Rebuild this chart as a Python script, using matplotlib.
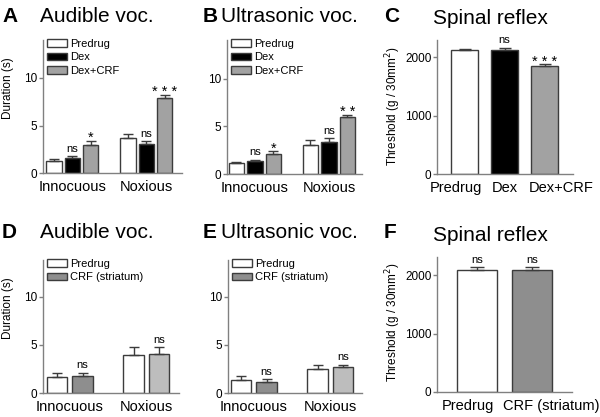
import matplotlib
matplotlib.use("Agg")
import matplotlib.pyplot as plt
import matplotlib.transforms as mtransforms
import numpy as np

plt.rcParams["font.family"] = ["Liberation Sans", "DejaVu Sans"]

W, H = 600, 417

# ---- data ----
groups = ["Innocuous", "Noxious"]

A_pre = [1.22, 3.68]
A_pre_err = [0.28, 0.42]
A_dex = [1.58, 3.05]
A_dex_err = [0.20, 0.27]
A_crf = [2.90, 7.90]
A_crf_err = [0.50, 0.27]
A_marks = [["", ""], ["ns", "ns"], ["*", "* * *"]]

B_pre = [1.19, 3.04]
B_pre_err = [0.12, 0.56]
B_dex = [1.37, 3.37]
B_dex_err = [0.13, 0.38]
B_crf = [2.15, 5.95]
B_crf_err = [0.25, 0.27]
B_marks = [["", ""], ["ns", "ns"], ["*", "* *"]]

C_labels = ["Predrug", "Dex", "Dex+CRF"]
C_vals = [2124, 2130, 1852]
C_err = [18, 40, 28]
C_marks = ["", "ns", "* * *"]

D_pre = [1.67, 3.99]
D_pre_err = [0.38, 0.77]
D_crf = [1.77, 4.03]
D_crf_err = [0.34, 0.73]
D_marks = [["", ""], ["ns", "ns"]]

E_pre = [1.35, 2.53]
E_pre_err = [0.42, 0.39]
E_crf = [1.18, 2.67]
E_crf_err = [0.24, 0.29]
E_marks = [["", ""], ["ns", "ns"]]

F_labels = ["Predrug", "CRF (striatum)"]
F_vals = [2097, 2092]
F_err = [46, 45]
F_marks = ["ns", "ns"]

legend_dex = ["Predrug", "Dex", "Dex+CRF"]
legend_str = ["Predrug", "CRF (striatum)"]

WHITE, BLACK, GREY = "white", "black", "#a2a2a2"
DARK_GREY, LIGHT_GREY = "#8e8e8e", "#bdbdbd"
EDGE = "#3c3c3c"
AXIS = "#808080"

fig = plt.figure(figsize=(W / 100, H / 100), dpi=100)


def px_axes(left, top, right, bottom):
    return fig.add_axes([left / W, 1 - bottom / H, (right - left) / W, (bottom - top) / H])


def style(ax):
    for s in ["top", "right"]:
        ax.spines[s].set_visible(False)
    for s in ["left", "bottom"]:
        ax.spines[s].set_color(AXIS)
        ax.spines[s].set_linewidth(1.0)
    ax.tick_params(axis="y", direction="out", length=3, width=1, color=AXIS,
                   labelsize=8.5, pad=1)
    ax.tick_params(axis="x", length=0, labelsize=10.5, pad=5)


def mark(ax, x, top, txt):
    if not txt:
        return
    if txt.startswith("*"):
        ax.annotate(txt, (x, top), xytext=(0, -0.8), textcoords="offset points",
                    ha="center", va="baseline", fontsize=10.5)
    else:
        ax.annotate(txt, (x, top), xytext=(0, 3.2), textcoords="offset points",
                    ha="center", va="baseline", fontsize=8)


def bars(ax, x, vals, errs, color, width, label=None, capsize=3.5):
    ax.bar(x, vals, width, color=color, edgecolor=EDGE, linewidth=1, label=label, zorder=2)
    ax.errorbar(x, vals, yerr=[np.zeros(len(vals)), errs], fmt="none", ecolor=EDGE,
                elinewidth=1, capsize=capsize, capthick=1, zorder=3)


def legend(ax):
    ax.legend(loc="upper left", bbox_to_anchor=(0, 1.04), frameon=False, fontsize=8,
              handlelength=1.8, handleheight=0.7, handletextpad=0.25,
              labelspacing=0.3, borderpad=0.4, borderaxespad=0)


# ---- A / B: three bars per group ----
def three_group(ax, pre, pre_e, dex, dex_e, crf, crf_e, marks, xlim, ytop, step):
    g = np.arange(len(groups)) * step
    series = [(pre, pre_e, WHITE), (dex, dex_e, BLACK), (crf, crf_e, GREY)]
    for j, (v, e, c) in enumerate(series):
        x = g + j
        bars(ax, x, v, e, c, 0.84, label=legend_dex[j])
        for i in range(len(groups)):
            mark(ax, x[i], v[i] + e[i], marks[j][i])
    ax.set_xlim(*xlim)
    ax.set_ylim(0, ytop)
    ax.set_yticks([0, 5, 10])
    ax.set_xticks(g + 1)
    ax.set_xticklabels(groups)
    style(ax)
    legend(ax)


axA = px_axes(43, 40, 182, 173)
three_group(axA, A_pre, A_pre_err, A_dex, A_dex_err, A_crf, A_crf_err, A_marks,
            (-0.6, 7.0), 14.0, 4.05)
axB = px_axes(227, 40, 362, 174)
three_group(axB, B_pre, B_pre_err, B_dex, B_dex_err, B_crf, B_crf_err, B_marks,
            (-0.51, 6.79), 14.1, 4.0)


# ---- D / E: two bars per group ----
def two_group(ax, pre, pre_e, crf, crf_e, marks, xlim, ytop):
    g = np.arange(len(groups)) * 3
    bars(ax, g, pre, pre_e, WHITE, 0.8, label=legend_str[0])
    bars(ax, g[:1] + 1, crf[:1], crf_e[:1], DARK_GREY, 0.8, label=legend_str[1])
    bars(ax, g[1:] + 1, crf[1:], crf_e[1:], LIGHT_GREY, 0.8)
    for i in range(len(groups)):
        mark(ax, g[i], pre[i] + pre_e[i], marks[0][i])
        mark(ax, g[i] + 1, crf[i] + crf_e[i], marks[1][i])
    ax.set_xlim(*xlim)
    ax.set_ylim(0, ytop)
    ax.set_yticks([0, 5, 10])
    ax.set_xticks(g + 0.5)
    ax.set_xticklabels(groups)
    style(ax)
    legend(ax)


axD = px_axes(43, 260, 179, 393)
two_group(axD, D_pre, D_pre_err, D_crf, D_crf_err, D_marks, (-0.55, 4.78), 13.85)
axE = px_axes(228, 260, 362, 393)
two_group(axE, E_pre, E_pre_err, E_crf, E_crf_err, E_marks, (-0.51, 4.74), 13.85)


# ---- C / F: spinal reflex ----
def reflex(ax, labels, vals, errs, colors, marks, width, xlim, ytop, shifts, capsize):
    x = np.arange(len(vals))
    for i in range(len(vals)):
        bars(ax, x[i:i + 1], vals[i:i + 1], errs[i:i + 1], colors[i], width, capsize=capsize)
        mark(ax, x[i], vals[i] + errs[i], marks[i])
    ax.set_xlim(*xlim)
    ax.set_ylim(0, ytop)
    ax.set_yticks([0, 1000, 2000])
    ax.set_xticks(x)
    ax.set_xticklabels(labels)
    style(ax)
    for lab, dx in zip(ax.get_xticklabels(), shifts):
        off = mtransforms.ScaledTranslation(dx / 100, 0, fig.dpi_scale_trans)
        lab.set_transform(lab.get_transform() + off)


axC = px_axes(437, 40, 573, 174)
reflex(axC, C_labels, C_vals, C_err, [WHITE, BLACK, GREY], C_marks, 0.68,
       (-0.69, 2.71), 2300, [-8.5, 0, 16.5], 4)
axF = px_axes(437, 257, 572, 392)
reflex(axF, F_labels, F_vals, F_err, [WHITE, DARK_GREY], F_marks, 0.73,
       (-0.72, 1.73), 2315, [-9, 19], 5)

# ---- axis titles ----
for y in (88, 308):
    fig.text(8 / W, 1 - y / H, "Duration (s)", rotation=90, ha="center", va="center",
             fontsize=8.5)
for y in (106, 322):
    fig.text(393 / W, 1 - y / H, "Threshold (g / 30mm$^2$)", rotation=90, ha="center",
             va="center", fontsize=8.5)

# ---- panel letters and titles ----
panels = [("A", 2, 22, "Audible voc.", 40, 22),
          ("B", 203, 22, "Ultrasonic voc.", 221, 22),
          ("C", 384, 22, "Spinal reflex", 433, 24),
          ("D", 2, 238, "Audible voc.", 40, 238),
          ("E", 203, 238, "Ultrasonic voc.", 221, 238),
          ("F", 384, 238, "Spinal reflex", 433, 241)]
for letter, lx, ly, title, tx, ty in panels:
    fig.text(lx / W, 1 - ly / H, letter, fontsize=15, fontweight="bold", va="baseline")
    fig.text(tx / W, 1 - ty / H, title, fontsize=15, va="baseline")

fig.savefig("out.png", dpi=100)
